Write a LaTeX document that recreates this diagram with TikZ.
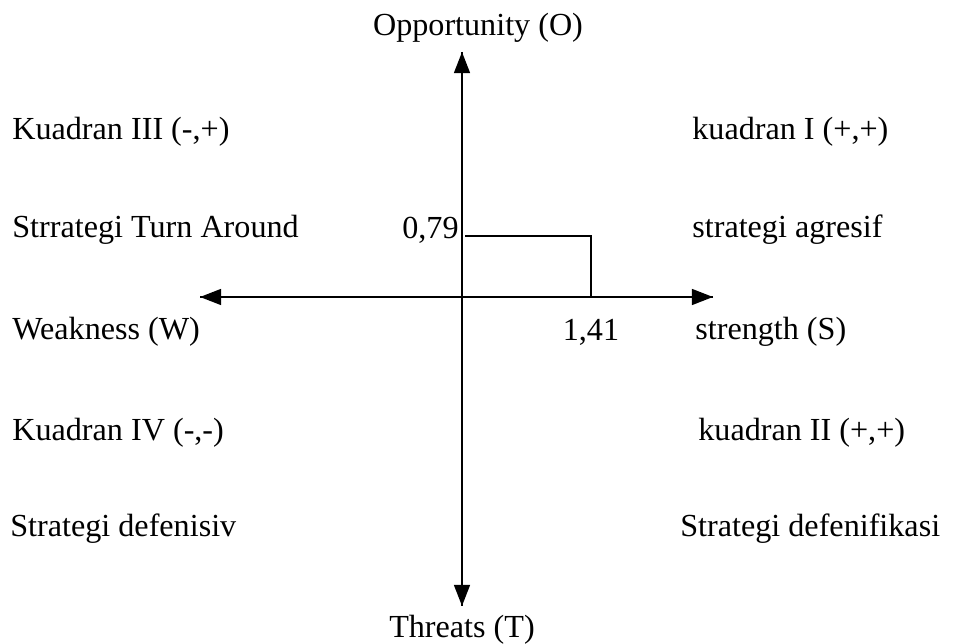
\documentclass[tikz,border=0pt]{standalone}
\usepackage{fontspec}
\setmainfont[Ligatures={NoCommon}]{Liberation Serif}
\usetikzlibrary{arrows.meta}
\begin{document}
\begin{tikzpicture}[x=0.02cm, y=-0.02cm, font=\fontsize{18.3}{22}\selectfont,
  lbl/.style={anchor=west, inner sep=0pt}]
  \useasboundingbox (0,0) rectangle (971,644); % Canvas size

  % Axis end points
  \coordinate (otop) at (462,52);
  \coordinate (tbot) at (462,606);
  \coordinate (wleft) at (200,297);
  \coordinate (sright) at (713,297);

  % Drawing the two axes
  \draw[line width=1.2pt, -{Triangle[length=12pt, width=9pt]}] (tbot) -- (otop); % Vertical axis up
  \draw[line width=1.2pt, -{Triangle[length=12pt, width=9pt]}] (otop) -- (tbot); % Vertical axis down
  \draw[line width=1.2pt, -{Triangle[length=12pt, width=9pt]}] (sright) -- (wleft); % Horizontal axis left
  \draw[line width=1.2pt, -{Triangle[length=12pt, width=9pt]}] (wleft) -- (sright); % Horizontal axis right

  % Axis labels
  \node (opp) at (478,28) {Opportunity (O)};
  \node (thr) at (462,630) {Threats (T)};
  \node[lbl] (weak) at (12,332) {Weakness (W)};
  \node[lbl] (str) at (695,332) {strength (S)};

  % Quadrant texts
  \node[lbl] (q3) at (12,132) {Kuadran III (-,+)};
  \node[lbl] (s3) at (12,230) {Strrategi Turn Around};
  \node[lbl] (q1) at (692,132) {kuadran I (+,+)};
  \node[lbl] (s1) at (692,230) {strategi agresif};
  \node[lbl] (q4) at (12,433) {Kuadran IV (-,-)};
  \node[lbl] (s4) at (10,529) {Strategi defenisiv};
  \node[lbl] (q2) at (698,433) {kuadran II (+,+)};
  \node[lbl] (s2) at (680,529) {Strategi defenifikasi};

  % Position point (1,41 ; 0,79)
  \node[anchor=east, inner sep=0pt] (yval) at (459,230) {0,79};
  \node[inner sep=0pt] (xval) at (591,332) {1,41};
  \coordinate (ymark) at (465,236);
  \coordinate (xmark) at (591,297);
  \draw[line width=1pt] (ymark) -- (ymark -| xmark) -- (xmark); % Lines to the point
\end{tikzpicture}
\end{document}
